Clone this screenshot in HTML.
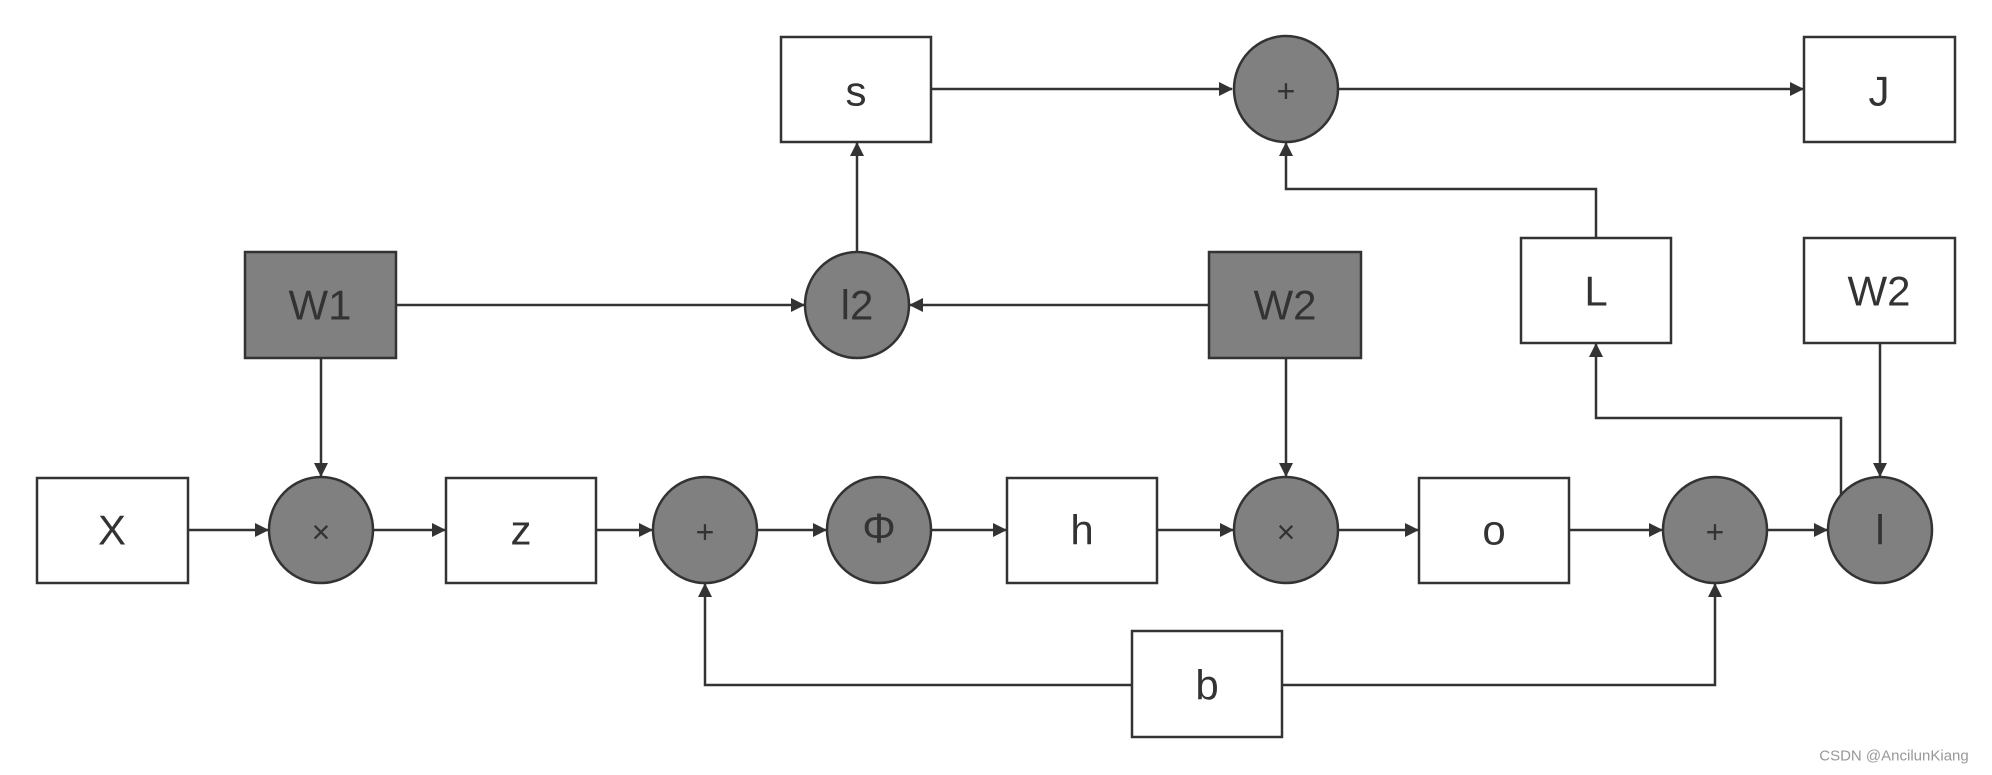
<!DOCTYPE html>
<html><head><meta charset="utf-8"><style>
html,body{margin:0;padding:0;background:#fff;}
svg{display:block;}
text{font-family:"Liberation Sans","DejaVu Sans",sans-serif;fill:#333;text-anchor:middle;dominant-baseline:central;}
</style></head><body>
<svg width="1992" height="775" viewBox="0 0 1992 775" xmlns="http://www.w3.org/2000/svg">
<defs><marker id="a" markerWidth="10" markerHeight="10" refX="9" refY="5" orient="auto" markerUnits="userSpaceOnUse"><path d="M0,0 L10,5 L0,10 z" fill="#333"/></marker>
<marker id="b" markerWidth="14" markerHeight="14" refX="13" refY="7" orient="auto" markerUnits="userSpaceOnUse"><path d="M0,0 L14,7 L0,14 z" fill="#333"/></marker></defs>
<g stroke="#333" stroke-width="2.5" fill="none" marker-end="url(#b)">
<line x1="188" y1="530" x2="268" y2="530"/>
<line x1="373" y1="530" x2="445" y2="530"/>
<line x1="596" y1="530" x2="652" y2="530"/>
<line x1="757" y1="530" x2="826" y2="530"/>
<line x1="931" y1="530" x2="1006" y2="530"/>
<line x1="1157" y1="530" x2="1233" y2="530"/>
<line x1="1338" y1="530" x2="1418" y2="530"/>
<line x1="1569" y1="530" x2="1662" y2="530"/>
<line x1="1767" y1="530" x2="1827" y2="530"/>
<line x1="321" y1="358" x2="321" y2="476"/>
<line x1="1286" y1="358" x2="1286" y2="476"/>
<line x1="1880" y1="343" x2="1880" y2="476"/>
<line x1="396" y1="305" x2="804" y2="305"/>
<line x1="1209" y1="305" x2="910" y2="305"/>
<line x1="857" y1="252" x2="857" y2="143"/>
<line x1="931" y1="89" x2="1232" y2="89"/>
<line x1="1339" y1="89" x2="1803" y2="89"/>
<polyline points="1596,238 1596,189 1286,189 1286,143"/>
<polyline points="1841,495 1841,418 1596,418 1596,344"/>
<polyline points="1132,685 705,685 705,584"/>
<polyline points="1282,685 1715,685 1715,584"/>
</g>
<g stroke="#333" stroke-width="2.5">
<rect x="37" y="478" width="151" height="105" fill="#fff"/>
<rect x="446" y="478" width="150" height="105" fill="#fff"/>
<rect x="1007" y="478" width="150" height="105" fill="#fff"/>
<rect x="1419" y="478" width="150" height="105" fill="#fff"/>
<rect x="1132" y="631" width="150" height="106" fill="#fff"/>
<rect x="245" y="252" width="151" height="106" fill="#808080"/>
<rect x="1209" y="252" width="152" height="106" fill="#808080"/>
<rect x="1521" y="238" width="150" height="105" fill="#fff"/>
<rect x="1804" y="238" width="151" height="105" fill="#fff"/>
<rect x="781" y="37" width="150" height="105" fill="#fff"/>
<rect x="1804" y="37" width="151" height="105" fill="#fff"/>
<ellipse cx="321" cy="530" rx="52" ry="53" fill="#808080"/>
<ellipse cx="705" cy="530" rx="52" ry="53" fill="#808080"/>
<ellipse cx="879" cy="530" rx="52" ry="53" fill="#808080"/>
<ellipse cx="1286" cy="530" rx="52" ry="53" fill="#808080"/>
<ellipse cx="1715" cy="530" rx="52" ry="53" fill="#808080"/>
<ellipse cx="1880" cy="530" rx="52" ry="53" fill="#808080"/>
<ellipse cx="857" cy="305" rx="52" ry="53" fill="#808080"/>
<ellipse cx="1286" cy="89" rx="52" ry="53" fill="#808080"/>
</g>
<g font-size="42">
<text x="112" y="530">X</text>
<text x="521" y="530">z</text>
<text x="1082" y="530">h</text>
<text x="1494" y="530">o</text>
<text x="1207" y="685">b</text>
<text x="320" y="305">W1</text>
<text x="1285" y="305">W2</text>
<text x="1596" y="291">L</text>
<text x="1879" y="291">W2</text>
<text x="856" y="91">s</text>
<text x="1879" y="91">J</text>
<text x="857" y="305">l2</text>
<text x="1880" y="530">l</text>
<text x="879" y="528">Φ</text>
</g>
<g font-size="32">
<text x="321" y="532">×</text>
<text x="1286" y="532">×</text>
<text x="705" y="532">+</text>
<text x="1715" y="532">+</text>
<text x="1286" y="91">+</text>
</g>
<text x="1894" y="756" font-size="15" style="fill:#999">CSDN @AncilunKiang</text>
</svg>
</body></html>
